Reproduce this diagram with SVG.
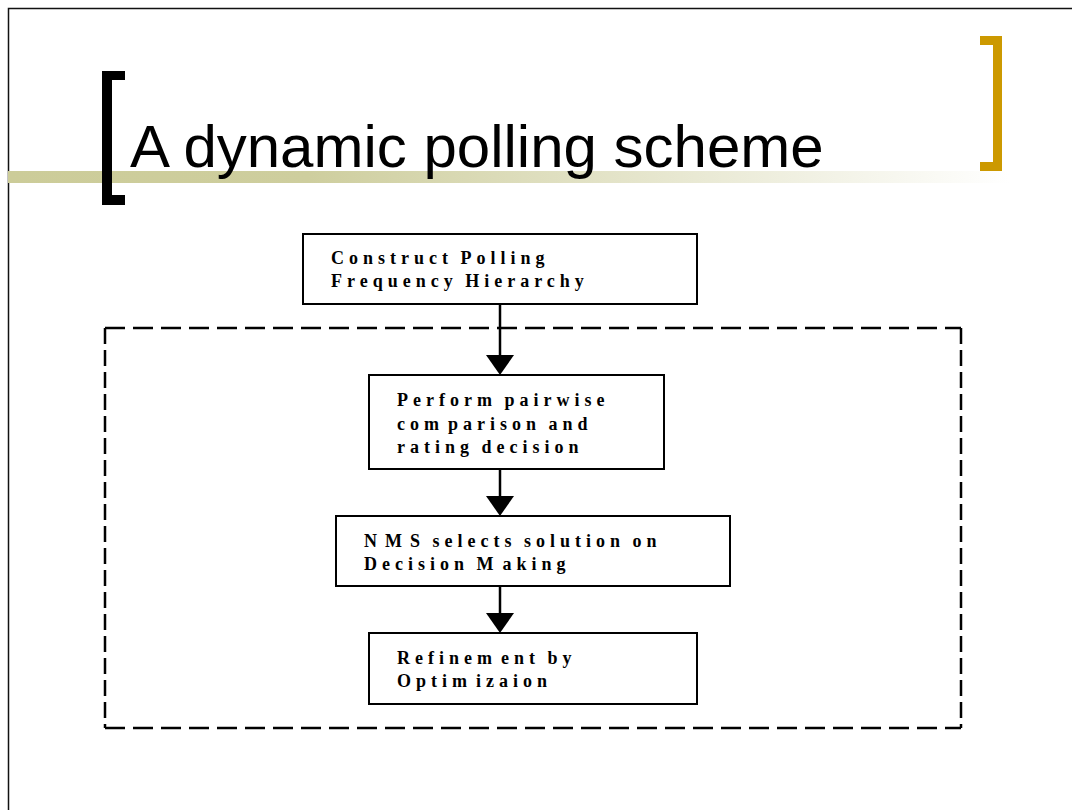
<svg xmlns="http://www.w3.org/2000/svg" width="1072" height="810" viewBox="0 0 1072 810">
<style>
.box{fill:#fff;stroke:#000;stroke-width:2}
.lbl{font-family:"Liberation Serif","Times New Roman",serif;font-weight:bold;font-size:18px;letter-spacing:5px;word-spacing:-2px;fill:#000}
.title{font-family:"Liberation Sans",Arial,sans-serif;font-size:60px;fill:#000}
.conn{stroke:#000;stroke-width:2.5;fill:none}
.head{fill:#000}
.dash{stroke:#000;stroke-width:2.5;fill:none}
</style>
<defs>
<linearGradient id="band" x1="8" y1="0" x2="1010" y2="0" gradientUnits="userSpaceOnUse">
<stop offset="0" stop-color="#CCCC99"/>
<stop offset="0.3" stop-color="#CECE9E"/>
<stop offset="1" stop-color="#FFFFFF"/>
</linearGradient>
</defs>
<rect width="1072" height="810" fill="#fff"/>
<g id="frame">
<path d="M8.5,810 L8.5,8.5 L1072,8.5" fill="none" stroke="#111" stroke-width="1.5"/>
</g>
<g id="header">
<rect x="8" y="171" width="1002" height="12" fill="url(#band)"/>
<path d="M125,71 L102,71 L102,205 L125,205 L125,195 L112,195 L112,80 L125,80 Z" fill="#000"/>
<path d="M980,36 L1002,36 L1002,171 L980,171 L980,162 L993,162 L993,45 L980,45 Z" fill="#CC9900"/>
<text class="title" x="130" y="167">A dynamic polling scheme</text>
</g>
<g id="dashed-region">
<path class="dash" d="M105,328 L961,328" stroke-dasharray="20 8"/>
<path class="dash" d="M105,728 L961,728" stroke-dasharray="20 8"/>
<path class="dash" d="M105,328 L105,728" stroke-dasharray="16 6"/>
<path class="dash" d="M961,328 L961,728" stroke-dasharray="16 6"/>
</g>
<g id="connectors">
<line class="conn" x1="500" y1="304" x2="500" y2="358"/>
<path class="head" d="M486,355 L514,355 L500,375 Z"/>
<line class="conn" x1="500" y1="469" x2="500" y2="499"/>
<path class="head" d="M486,496 L514,496 L500,516 Z"/>
<line class="conn" x1="500" y1="586" x2="500" y2="616"/>
<path class="head" d="M486,613 L514,613 L500,633 Z"/>
</g>
<g id="node1">
<rect class="box" x="303" y="234" width="394" height="70"/>
<text class="lbl" x="331" y="264">Construct Polling</text>
<text class="lbl" x="331" y="287">Frequency Hierarchy</text>
</g>
<g id="node2">
<rect class="box" x="369" y="375" width="295" height="94"/>
<text class="lbl" x="397" y="406">Perform pairwise</text>
<text class="lbl" x="397" y="430"><tspan>com</tspan><tspan dx="4">parison and</tspan></text>
<text class="lbl" x="397" y="453">rating decision</text>
</g>
<g id="node3">
<rect class="box" x="336" y="516" width="394" height="70"/>
<text class="lbl" x="364" y="547"><tspan>N</tspan><tspan dx="3">M</tspan><tspan dx="3">S selects solution on</tspan></text>
<text class="lbl" x="364" y="570"><tspan>Decision M</tspan><tspan dx="4">aking</tspan></text>
</g>
<g id="node4">
<rect class="box" x="369" y="633" width="328" height="71"/>
<text class="lbl" x="397" y="664"><tspan>Refinem</tspan><tspan dx="4">ent by</tspan></text>
<text class="lbl" x="397" y="687"><tspan>Optim</tspan><tspan dx="4">izaion</tspan></text>
</g>
</svg>
